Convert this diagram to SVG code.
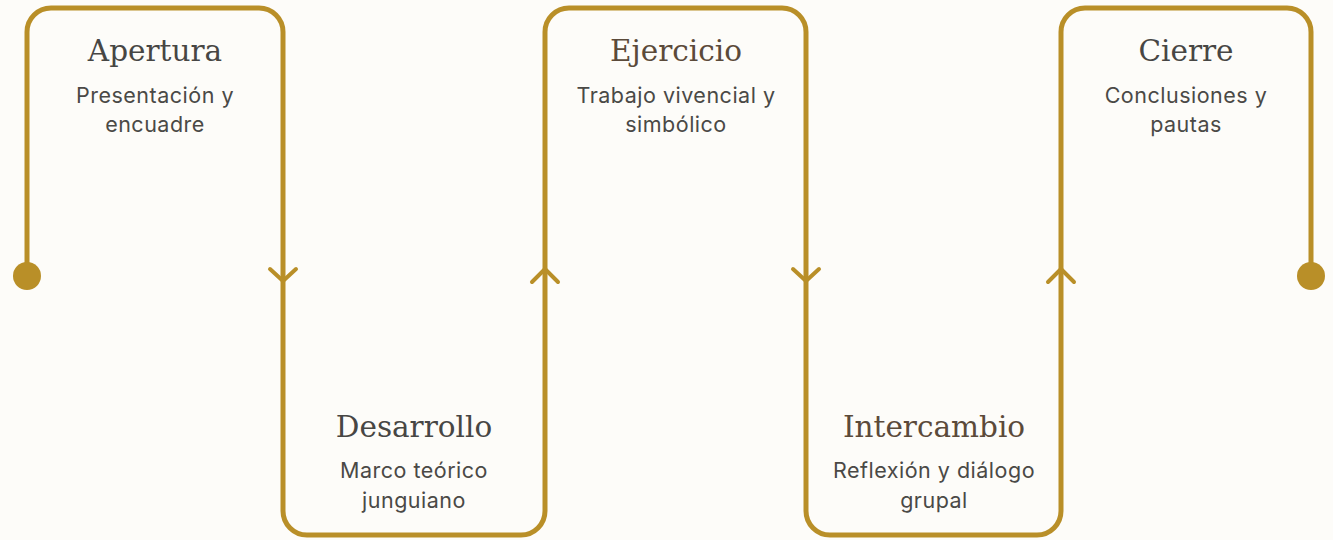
<svg xmlns="http://www.w3.org/2000/svg" width="1333" height="540" viewBox="0 0 1333 540">
<style>
.bg{fill:#FDFCF9}
.line{fill:none;stroke:#B98F28;stroke-width:5;stroke-linecap:round;stroke-linejoin:round}
.chev{fill:none;stroke:#B98F28;stroke-width:4;stroke-linecap:round;stroke-linejoin:round}
.dot{fill:#B98F28}
.title{font-family:"DejaVu Serif","Liberation Serif",serif;font-size:29.5px;text-anchor:middle;fill:#474644}
.title.brown{fill:#5B4A3A}
.sub{font-family:Inter,"Liberation Sans",sans-serif;font-size:21.5px;letter-spacing:0.5px;text-anchor:middle;fill:#4A4946}
</style>
<rect class="bg" x="0" y="0" width="1333" height="540"/>
<g id="connectors">
<path class="line" d="M27,276 V32 A24,24 0 0 1 51,8 H259 A24,24 0 0 1 283,32 V511 A24,24 0 0 0 307,535 H521 A24,24 0 0 0 545,511 V32 A24,24 0 0 1 569,8 H782 A24,24 0 0 1 806,32 V511 A24,24 0 0 0 830,535 H1037 A24,24 0 0 0 1061,511 V32 A24,24 0 0 1 1085,8 H1287 A24,24 0 0 1 1311,32 V276"/>
<circle class="dot" cx="27" cy="276" r="14"/>
<circle class="dot" cx="1311" cy="276" r="14"/>
<polyline class="chev" points="270,269 283,281 296,269"/>
<polyline class="chev" points="532,282 545,269 558,282"/>
<polyline class="chev" points="793,269 806,281 819,269"/>
<polyline class="chev" points="1048,282 1061,269 1074,282"/>
</g>
<g id="apertura">
<text class="title" x="155" y="61">Apertura</text>
<text class="sub" x="155" y="103">Presentación y</text>
<text class="sub" x="155" y="132">encuadre</text>
</g>
<g id="desarrollo">
<text class="title" x="414" y="437">Desarrollo</text>
<text class="sub" x="414" y="478">Marco teórico</text>
<text class="sub" x="414" y="508">junguiano</text>
</g>
<g id="ejercicio">
<text class="title brown" x="676" y="61">Ejercicio</text>
<text class="sub" x="676" y="103">Trabajo vivencial y</text>
<text class="sub" x="676" y="132">simbólico</text>
</g>
<g id="intercambio">
<text class="title brown" x="934" y="437">Intercambio</text>
<text class="sub" x="934" y="478">Reflexión y diálogo</text>
<text class="sub" x="934" y="508">grupal</text>
</g>
<g id="cierre">
<text class="title" x="1186" y="61">Cierre</text>
<text class="sub" x="1186" y="103">Conclusiones y</text>
<text class="sub" x="1186" y="132">pautas</text>
</g>
</svg>
